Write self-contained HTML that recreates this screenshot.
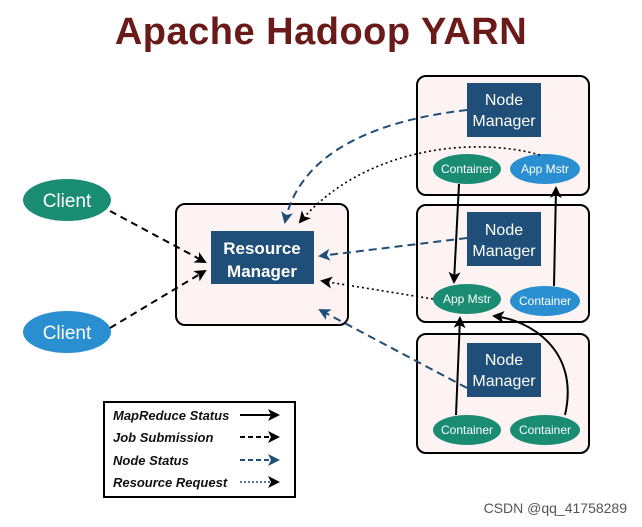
<!DOCTYPE html>
<html><head><meta charset="utf-8"><style>
html,body{margin:0;padding:0;background:#fff;}
svg{display:block;font-family:"Liberation Sans",sans-serif;}
</style></head><body>
<svg width="642" height="527" viewBox="0 0 642 527" xmlns="http://www.w3.org/2000/svg">
<defs>
<marker id="ab" markerWidth="12" markerHeight="12" refX="10" refY="6" orient="auto" markerUnits="userSpaceOnUse"><path d="M0,0 L12,6 L0,12 L3,6 z" fill="#000"/></marker>
<marker id="au" markerWidth="12" markerHeight="12" refX="10" refY="6" orient="auto" markerUnits="userSpaceOnUse"><path d="M0,0 L12,6 L0,12 L3,6 z" fill="#1f4e79"/></marker>
</defs>
<text x="321" y="44" text-anchor="middle" font-size="38" font-weight="bold" fill="#6b1a1a" letter-spacing="0.5">Apache Hadoop YARN</text>

<g stroke="#000" stroke-width="2" fill="#fdf3f3">
<rect x="417" y="76" width="172" height="119" rx="9"/>
<rect x="417" y="205" width="172" height="117" rx="9"/>
<rect x="417" y="334" width="172" height="119" rx="9"/>
<rect x="176" y="204" width="172" height="121" rx="9"/>
</g>
<g fill="#1f4e79">
<rect x="467" y="83" width="74" height="54"/>
<rect x="467" y="212" width="74" height="54"/>
<rect x="467" y="343" width="74" height="54"/>
<rect x="211" y="231" width="103" height="53"/>
</g>
<g fill="#fff" font-size="16" text-anchor="middle">
<text x="504" y="105">Node</text><text x="504" y="126">Manager</text>
<text x="504" y="235">Node</text><text x="504" y="256">Manager</text>
<text x="504" y="365">Node</text><text x="504" y="386">Manager</text>
<text x="262" y="254" font-size="17" font-weight="bold">Resource</text><text x="262" y="277" font-size="17" font-weight="bold">Manager</text>
</g>

<ellipse cx="67" cy="200" rx="44" ry="21" fill="#1a8c72"/>
<ellipse cx="67" cy="332" rx="44" ry="21" fill="#2a8fd0"/>
<ellipse cx="467" cy="169" rx="34" ry="15" fill="#1a8c72"/>
<ellipse cx="545" cy="169" rx="35" ry="15" fill="#2a8fd0"/>
<ellipse cx="467" cy="299" rx="34" ry="15" fill="#1a8c72"/>
<ellipse cx="545" cy="301" rx="35" ry="15" fill="#2a8fd0"/>
<ellipse cx="467" cy="430" rx="34" ry="15" fill="#1a8c72"/>
<ellipse cx="545" cy="430" rx="35" ry="15" fill="#1a8c72"/>
<g fill="#fff" font-size="12" text-anchor="middle">
<text x="67" y="207" font-size="19">Client</text>
<text x="67" y="339" font-size="19">Client</text>
<text x="467" y="173">Container</text>
<text x="545" y="173">App Mstr</text>
<text x="467" y="303">App Mstr</text>
<text x="545" y="305">Container</text>
<text x="467" y="434">Container</text>
<text x="545" y="434">Container</text>
</g>

<g fill="none" stroke-width="2">
<path d="M110,211 L205,262" stroke="#000" stroke-dasharray="7,5" marker-end="url(#ab)"/>
<path d="M110,328 L205,271" stroke="#000" stroke-dasharray="7,5" marker-end="url(#ab)"/>
<path d="M467,110 C380,120 300,150 285,222" stroke="#1f4e79" stroke-dasharray="8,5" marker-end="url(#au)"/>
<path d="M540,155 C470,135 360,150 300,222" stroke="#000" stroke-width="1.6" stroke-dasharray="2,3" marker-end="url(#ab)"/>
<path d="M467,238 L320,256" stroke="#1f4e79" stroke-dasharray="8,5" marker-end="url(#au)"/>
<path d="M433,299 L322,281" stroke="#000" stroke-width="1.6" stroke-dasharray="2,3" marker-end="url(#ab)"/>
<path d="M467,388 L320,310" stroke="#1f4e79" stroke-dasharray="8,5" marker-end="url(#au)"/>
<path d="M459,184 L454,282" stroke="#000" marker-end="url(#ab)"/>
<path d="M554,286 L556,188" stroke="#000" marker-end="url(#ab)"/>
<path d="M456,415 L460,318" stroke="#000" marker-end="url(#ab)"/>
<path d="M565,415 C580,350 530,320 494,316" stroke="#000" marker-end="url(#ab)"/>
</g>

<rect x="104" y="402" width="191" height="95" fill="#fff" stroke="#000" stroke-width="2"/>
<g font-size="13" font-style="italic" font-weight="bold" fill="#111">
<text x="113" y="420">MapReduce Status</text>
<text x="113" y="442">Job Submission</text>
<text x="113" y="465">Node Status</text>
<text x="113" y="487">Resource Request</text>
</g>
<g fill="none" stroke-width="2">
<path d="M240,415 L278,415" stroke="#000" marker-end="url(#ab)"/>
<path d="M240,437 L278,437" stroke="#000" stroke-dasharray="5,3" marker-end="url(#ab)"/>
<path d="M240,460 L278,460" stroke="#1f4e79" stroke-dasharray="5,3" marker-end="url(#au)"/>
<path d="M240,482 L278,482" stroke="#1f4e79" stroke-width="1.5" stroke-dasharray="2,2" marker-end="url(#ab)"/>
</g>
<text x="627" y="513" text-anchor="end" font-size="14" fill="#555">CSDN @qq_41758289</text>
</svg>
</body></html>
